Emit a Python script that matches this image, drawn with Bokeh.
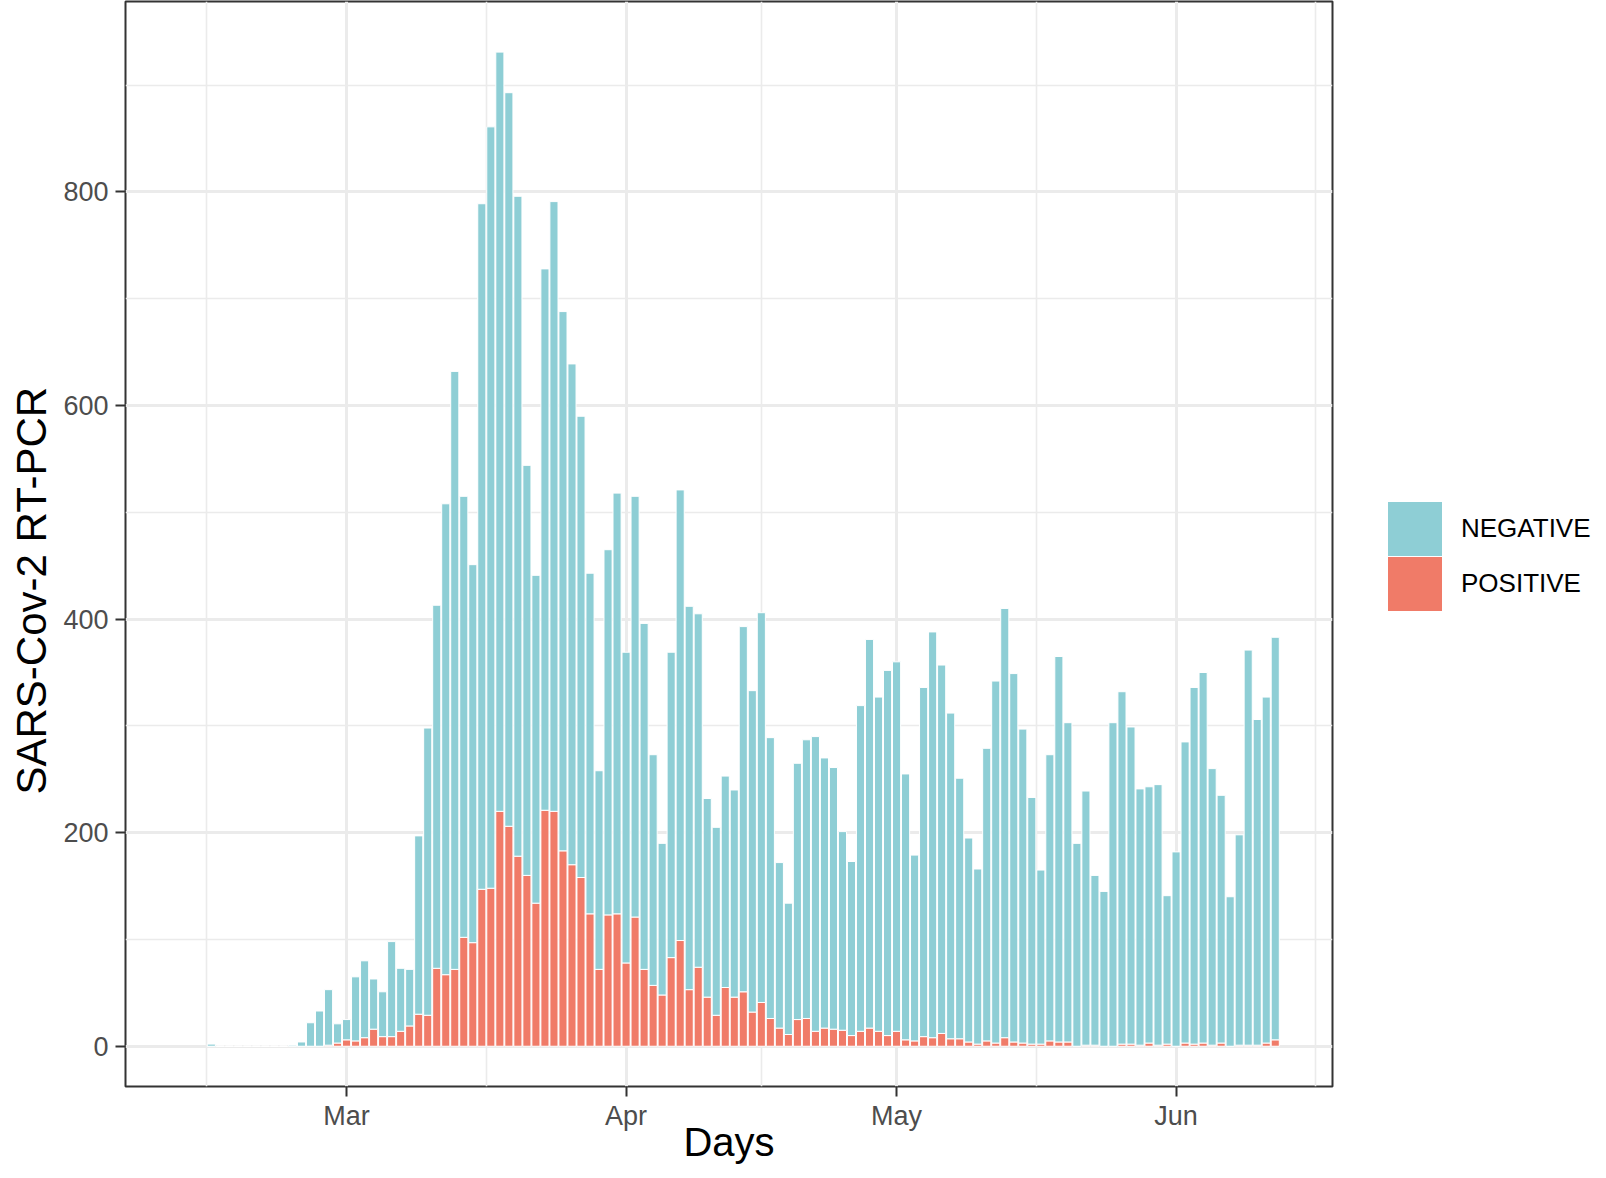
import numpy as np
import pandas as pd
from bokeh.plotting import figure
from bokeh.models import (ColumnDataSource, Range1d, FixedTicker, DatetimeTickFormatter,
                          Legend, LegendItem, Title)
from bokeh.embed import file_html
from bokeh.resources import INLINE

# ---------------- data ----------------
first_day = "2020-02-15"

negative = [
    # Feb 15 - Feb 29
    2, 0, 0, 0, 0, 0, 0, 0, 0, 1, 4, 22, 33, 52, 18,
    # Mar
    19, 60, 72, 47, 42, 89, 59, 53, 167, 269, 340, 441, 560, 413, 354, 642,
    713, 711, 687, 618, 384, 307, 507, 571, 505, 469, 432, 319, 186, 342, 394,
    # Apr
    291, 394, 324, 216, 142, 286, 422, 359, 331, 186, 176, 198, 194, 342, 301,
    365, 263, 155, 123, 240, 261, 276, 253, 245, 186, 163, 305, 364, 313, 342,
    # May
    346, 249, 174, 327, 380, 345, 305, 244, 191, 164, 274, 339, 402, 345, 294,
    231, 163, 268, 361, 299, 190, 238, 159, 145, 303, 330, 297, 240, 240, 244, 139,
    # Jun 1 - Jun 12
    182, 282, 334, 347, 259, 232, 140, 197, 370, 305, 324, 377,
]

positive = [
    # Feb 15 - Feb 29
    0, 0, 0, 0, 0, 0, 0, 0, 0, 0, 0, 0, 0, 1, 3,
    # Mar
    6, 5, 8, 16, 9, 9, 14, 19, 30, 29, 73, 67, 72, 102, 97, 147,
    148, 220, 206, 178, 160, 134, 221, 220, 183, 170, 158, 124, 72, 123, 124,
    # Apr
    78, 121, 72, 57, 48, 83, 99, 53, 74, 46, 29, 55, 46, 51, 32,
    41, 26, 17, 11, 25, 26, 14, 17, 16, 15, 10, 14, 17, 14, 10,
    # May
    14, 6, 5, 9, 8, 12, 7, 7, 4, 2, 5, 3, 8, 4, 3,
    2, 2, 5, 4, 4, 0, 1, 1, 0, 0, 2, 2, 1, 3, 1, 2,
    # Jun 1 - Jun 12
    0, 3, 2, 3, 1, 3, 0, 1, 1, 1, 3, 6,
]

month_ticks = ["2020-03-01", "2020-04-01", "2020-05-01", "2020-06-01"]
y_ticks = [0, 200, 400, 600, 800]
y_minor = [100, 300, 500, 700, 900]
series = ["POSITIVE", "NEGATIVE"]
legend_order = ["NEGATIVE", "POSITIVE"]
colors = {"POSITIVE": "#F07B68", "NEGATIVE": "#8ECED5"}

days = pd.date_range(first_day, periods=len(negative), freq="D")

# ---------------- helpers ----------------
DAY = 86400000.0


def ms(d):
    return pd.Timestamp(d).value / 1e6


major_ms = [ms(d) for d in month_ticks]
ext = [major_ms[0] - 31 * DAY] + major_ms + [major_ms[-1] + 31 * DAY]
minor_ms = [(a + b) / 2 for a, b in zip(ext[:-1], ext[1:])]

mar1 = major_ms[0]
x_start = mar1 - 24.52 * DAY
x_end = mar1 + 109.35 * DAY

FONT = "Liberation Sans"

p = figure(frame_width=1207, frame_height=1085, x_axis_type="datetime",
           x_range=Range1d(x_start, x_end), y_range=Range1d(-37.7, 978.4),
           output_backend="svg", toolbar_location=None,
           min_border_left=125, min_border_right=258,
           min_border_top=1, min_border_bottom=76)
p.background_fill_color = "white"
p.border_fill_color = "white"
p.outline_line_color = "#333333"
p.outline_line_width = 2

src = ColumnDataSource(dict(day=days, POSITIVE=positive, NEGATIVE=negative))
rs = p.vbar_stack(series, x="day", width=0.9 * DAY,
                  fill_color=[colors[s] for s in series],
                  line_color="white", line_width=1, source=src)

# hidden copies used only to draw solid legend keys
keys = {}
for s in legend_order:
    keys[s] = p.vbar(x="day", top=s, width=0.9 * DAY, source=src,
                     fill_color=colors[s], line_color=colors[s], line_width=10,
                     line_join="miter", visible=False)

# ---------------- axes ----------------
xt = FixedTicker(ticks=major_ms, minor_ticks=minor_ms)
yt = FixedTicker(ticks=y_ticks, minor_ticks=y_minor)
p.xaxis.ticker = xt
p.yaxis.ticker = yt
p.xgrid.ticker = xt
p.ygrid.ticker = yt

fmt = "%b"
p.xaxis.formatter = DatetimeTickFormatter(milliseconds=fmt, seconds=fmt, minsec=fmt,
                                          minutes=fmt, hourmin=fmt, hours=fmt,
                                          days=fmt, months=fmt, years=fmt)

for ax in (p.xaxis[0], p.yaxis[0]):
    ax.axis_line_color = None
    ax.major_tick_line_color = "#333333"
    ax.major_tick_line_width = 2
    ax.major_tick_out = 10
    ax.major_tick_in = 0
    ax.minor_tick_line_color = None
    ax.major_label_text_font = FONT
    ax.major_label_text_font_size = "27px"
    ax.major_label_text_color = "#4D4D4D"
p.xaxis.major_label_standoff = 4
p.yaxis.major_label_standoff = 7

p.xaxis.axis_label = "Days"
p.xaxis.axis_label_standoff = -14
p.xaxis.axis_label_text_font = FONT
p.xaxis.axis_label_text_font_size = "40px"
p.xaxis.axis_label_text_font_style = "normal"
p.xaxis.axis_label_text_color = "black"

for g in (p.xgrid[0], p.ygrid[0]):
    g.grid_line_color = "#EBEBEB"
    g.grid_line_width = 3
    g.minor_grid_line_color = "#EBEBEB"
    g.minor_grid_line_width = 1.6

# ---------------- y title ----------------
p.add_layout(Title(text="SARS-Cov-2 RT-PCR", align="left", offset=292,
                   standoff=11, text_font=FONT, text_font_size="42px",
                   text_font_style="normal", text_color="black"), "left")

# ---------------- legend ----------------
legend = Legend(items=[LegendItem(label=s, renderers=[keys[s]]) for s in legend_order],
                location=(55, 475), glyph_width=55, glyph_height=55,
                label_height=55, spacing=0, padding=0, margin=0,
                label_standoff=19, label_text_font=FONT,
                label_text_font_size="26px", label_text_color="black",
                inactive_fill_alpha=0, click_policy="none",
                border_line_color=None, background_fill_alpha=0)
p.add_layout(legend, "right")

open("out.html", "w").write(file_html(p, INLINE))
